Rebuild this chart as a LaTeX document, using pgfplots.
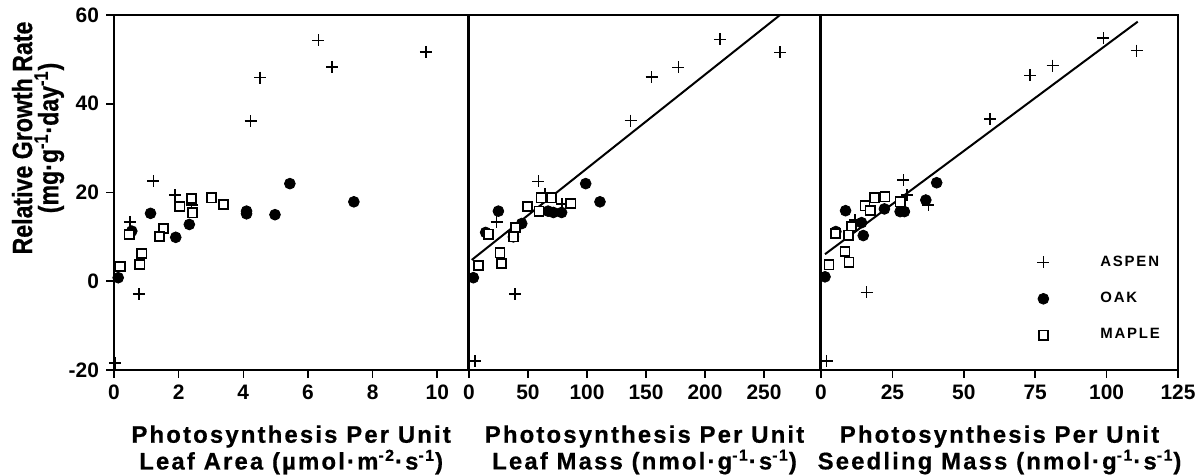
\documentclass[border=0pt]{standalone}
\usepackage{pgfplots}
\pgfplotsset{compat=1.18}
\usepackage{fontspec}
\setmainfont{Liberation Sans}
\newfontfamily\condfont{Liberation Sans}[FakeStretch=0.83, FakeBold=0.6]
\newfontfamily\spacedfont{Liberation Sans}[LetterSpace=9, FakeBold=0.6]

\pgfplotsset{
  panel/.style={
    scale only axis, height=177.5bp,
    ymin=-20, ymax=60, ytick={-20,0,20,40,60},
    axis line style={line width=0.9bp},
    tick style={line width=0.8bp, black},
    major tick length=4bp,
    tick align=outside,
    xtick pos=bottom, ytick pos=left,
    tick label style={font=\fontsize{10.5}{12}\selectfont\bfseries},
    /pgf/number format/assume math mode=true,
    xlabel style={font=\spacedfont\fontsize{12}{10.5}\selectfont\bfseries, align=center,
      at={(axis description cs:0.5,0)}, anchor=north, yshift=-27.5bp, inner sep=0pt},
    clip=false,
  },
  aspen/.style={only marks, mark=+, mark size=3bp, mark options={line width=0.75bp, black}},
  oak/.style={only marks, mark=*, mark size=2.7bp, mark options={fill=black, draw=black}},
  maple/.style={only marks, mark=square*, mark size=2.3bp, mark options={fill=white, draw=black, line width=0.85bp}},
}

\begin{document}
\begin{tikzpicture}
\useasboundingbox (0,0) rectangle (600.5bp,238bp);

\node[rotate=90, align=center, font=\condfont\bfseries\fontsize{14}{11}\selectfont] at (19bp,169bp)
  {Relative Growth Rate\\(mg·g\textsuperscript{-1}·day\textsuperscript{-1})};

% Panel 1
\begin{axis}[panel, at={(57bp,53bp)}, anchor=south west, width=177.15bp,
  xmin=0, xmax=10.96, xtick={0,2,4,6,8,10},
  xlabel={Photosynthesis Per Unit\\Leaf Area (µmol·m\textsuperscript{-2}·s\textsuperscript{-1})}]
\addplot[aspen] table {
x y
6.32 54.3
9.65 51.7
6.75 48.3
4.52 45.9
4.23 36.1
1.22 22.6
1.89 19.4
2.40 17.2
0.49 13.4
0.77 -2.9
0.03 -18.4
};
\addplot[oak] table {
x y
5.44 22.0
7.42 17.9
4.10 15.8
4.10 15.2
4.98 15.0
1.13 15.3
2.33 12.8
1.91 9.9
0.55 11.3
0.13 0.8
};
\addplot[maple] table {
x y
3.02 18.8
3.38 17.3
2.40 18.6
2.43 15.4
2.04 16.9
1.53 11.9
1.40 10.1
0.47 10.5
0.86 6.2
0.80 3.8
0.19 3.3
};
\end{axis}

% Panel 2
\begin{axis}[panel, at={(234.5bp,53bp)}, anchor=south west, width=175.5bp,
  xmin=0, xmax=297.5, xtick={0,50,100,150,200,250}, ytick=\empty,
  xlabel={Photosynthesis Per Unit\\Leaf Mass (nmol·g\textsuperscript{-1}·s\textsuperscript{-1})}]
\addplot[line width=1bp, black, forget plot] coordinates {(2.3,4.8) (263.6,60)};
\addplot[aspen] table {
x y
212.7 54.5
263.6 51.6
177.4 48.2
154.8 46.0
137.0 36.2
58.8 22.5
64.4 19.6
79.0 17.4
23.5 13.4
39.0 -2.9
5.1 -18.0
};
\addplot[oak] table {
x y
98.9 22.0
111.0 17.9
24.9 15.8
71.5 15.5
78.5 15.5
67.0 15.8
44.7 13.0
37.6 10.0
14.1 11.0
3.7 0.8
};
\addplot[maple] table {
x y
61.0 18.8
70.0 18.8
49.7 16.9
59.3 15.8
86.4 17.5
39.5 12.1
37.6 10.0
16.4 10.6
26.3 6.4
27.7 4.0
7.9 3.5
};
\end{axis}

% Panel 3
\begin{axis}[panel, at={(410.5bp,53bp)}, anchor=south west, width=178.5bp,
  xmin=0, xmax=125, xtick={0,25,50,75,100,125}, ytick=\empty,
  xlabel={Photosynthesis Per Unit\\Seedling Mass (nmol·g\textsuperscript{-1}·s\textsuperscript{-1})},
  legend image code/.code={\draw[#1, only marks] plot coordinates {(0bp,0bp)};},
  legend style={draw=none, fill=none, at={(0.605,0.326)}, anchor=north west,
    inner sep=0pt, row sep=10.5bp, nodes={inner sep=0.5bp},
    font=\fontsize{7.5}{9}\selectfont\bfseries\addfontfeatures{LetterSpace=12}},
  legend cell align=left]
\addplot[line width=1bp, black, forget plot] coordinates {(1.4,6.1) (110.9,58.5)};
\addplot[aspen] table {
x y
98.9 54.8
110.5 52.0
81.1 48.6
73.2 46.4
59.2 36.6
28.8 22.8
30.1 19.4
37.6 17.2
11.9 13.8
16.0 -2.5
2.0 -18.0
};
\addlegendentry{\hspace*{25bp}ASPEN}
\addplot[oak] table {
x y
40.5 22.2
36.7 18.3
8.6 15.9
22.2 16.3
27.7 15.7
29.2 15.7
14.8 10.3
14.2 13.2
5.2 11.2
1.4 1.0
};
\addlegendentry{\hspace*{25bp}OAK}
\addplot[maple] table {
x y
18.7 18.8
22.4 19.0
15.4 17.0
17.2 15.9
27.7 17.9
10.7 12.3
9.6 10.4
5.1 10.8
8.4 6.7
9.8 4.3
2.8 3.7
};
\addlegendentry{\hspace*{25bp}MAPLE}
\end{axis}
\end{tikzpicture}
\end{document}
